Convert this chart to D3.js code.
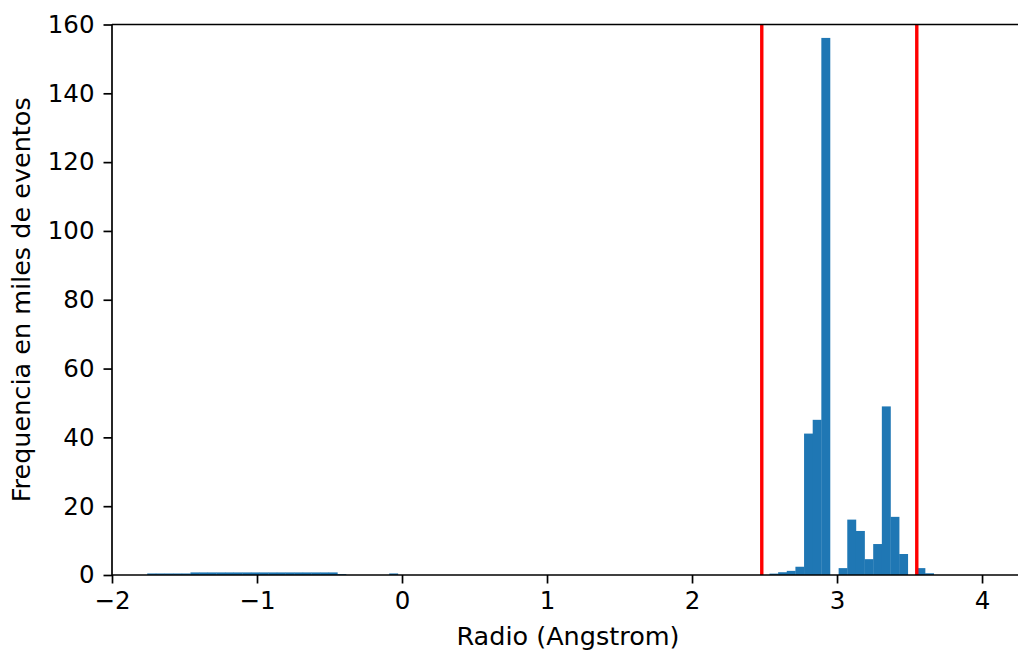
<!DOCTYPE html>
<html>
<head>
<meta charset="utf-8">
<script src="https://cdn.jsdelivr.net/npm/d3@7/dist/d3.min.js"></script>
<style>
  html, body { margin: 0; padding: 0; background: #ffffff; }
  svg { display: block; }
  text { font-family: "DejaVu Sans", sans-serif; fill: #000; }
</style>
</head>
<body>
<svg id="chart" width="1018" height="656"></svg>
<script>
// Histogram of radius values (thousands of events per bin)
const binStart = -1.757;
const binWidth = 0.0596;
const binCounts = [
  0.45, 0.45, 0.45, 0.45, 0.45,
  0.75, 0.75, 0.75, 0.75, 0.75, 0.75, 0.75, 0.75, 0.75, 0.75,
  0.75, 0.75, 0.75, 0.75, 0.75, 0.75, 0.75,
  0.25, 0, 0, 0, 0, 0, 0.45, 0,
  0, 0, 0, 0, 0, 0, 0, 0, 0, 0,
  0, 0, 0, 0, 0, 0, 0, 0, 0, 0,
  0, 0, 0, 0, 0, 0, 0, 0, 0, 0,
  0, 0, 0, 0, 0, 0, 0, 0, 0, 0,
  0, 0,
  0.4, 0.8, 1.2, 2.4, 41.1, 45.1, 156.1, 0, 2.0, 16.1,
  12.8, 4.6, 9.0, 49.0, 16.9, 6.1, 0, 2.0, 0.5
];
// Cut-off radii marked with vertical lines
const cutoffs = [2.481, 3.55];
const xTicks = [-2, -1, 0, 1, 2, 3, 4];
const yTicks = [0, 20, 40, 60, 80, 100, 120, 140, 160];

const xLabel = "Radio (Angstrom)";
const yLabel = "Frequencia en miles de eventos";

const svg = d3.select("#chart");
const plotLeft = 112, plotRight = 1018, plotTop = 24.5, plotBottom = 575;
const tickFontSize = 24.5;
const titleFontSize = 25.5;

const x = d3.scaleLinear().domain([-2, 4.248]).range([plotLeft, plotRight]);
const y = d3.scaleLinear().domain([0, 160]).range([plotBottom, plotTop]);

const bins = binCounts.map((c, i) => ({
  x0: binStart + i * binWidth,
  x1: binStart + (i + 1) * binWidth,
  count: c
})).filter(d => d.count > 0);

// Bars
svg.append("g").selectAll("rect")
  .data(bins)
  .join("rect")
  .attr("x", d => x(d.x0))
  .attr("width", d => x(d.x1) - x(d.x0) + 0.3)
  .attr("y", d => y(d.count))
  .attr("height", d => y(0) - y(d.count))
  .attr("fill", "#1f77b4");

// Cut-off lines
svg.append("g").selectAll("line")
  .data(cutoffs)
  .join("line")
  .attr("x1", d => x(d)).attr("x2", d => x(d))
  .attr("y1", plotTop).attr("y2", plotBottom)
  .attr("stroke", "#ff0000")
  .attr("stroke-width", 3.4);

// Axes
const fmt = d => (d < 0 ? "\u2212" + Math.abs(d) : String(d));

const xAxis = svg.append("g")
  .attr("transform", `translate(0,${plotBottom})`)
  .call(d3.axisBottom(x).tickValues(xTicks).tickFormat(fmt).tickSize(8.5).tickPadding(8).tickSizeOuter(0));

const yAxis = svg.append("g")
  .attr("transform", `translate(${plotLeft},0)`)
  .call(d3.axisLeft(y).tickValues(yTicks).tickFormat(fmt).tickSize(8.5).tickPadding(9).tickSizeOuter(0));

[xAxis, yAxis].forEach(g => {
  g.select(".domain").attr("stroke", "#000").attr("stroke-width", 1.7);
  g.selectAll(".tick line").attr("stroke", "#000").attr("stroke-width", 1.7);
  g.selectAll(".tick text").attr("font-size", tickFontSize).attr("font-family", "DejaVu Sans, sans-serif").attr("fill", "#000");
});
xAxis.select(".domain").attr("d", `M${plotLeft},0H${plotRight}`);
yAxis.select(".domain").attr("d", `M0,${plotBottom}V${plotTop}`);

// Top spine
svg.append("line")
  .attr("x1", plotLeft).attr("x2", plotRight)
  .attr("y1", plotTop).attr("y2", plotTop)
  .attr("stroke", "#000").attr("stroke-width", 1.7);

// Axis titles
svg.append("text")
  .attr("x", (plotLeft + plotRight) / 2 + 3)
  .attr("y", 645)
  .attr("text-anchor", "middle")
  .attr("font-size", titleFontSize)
  .text(xLabel);

svg.append("text")
  .attr("transform", `translate(30,${(plotTop + plotBottom) / 2}) rotate(-90)`)
  .attr("text-anchor", "middle")
  .attr("font-size", titleFontSize)
  .text(yLabel);
</script>
</body>
</html>
